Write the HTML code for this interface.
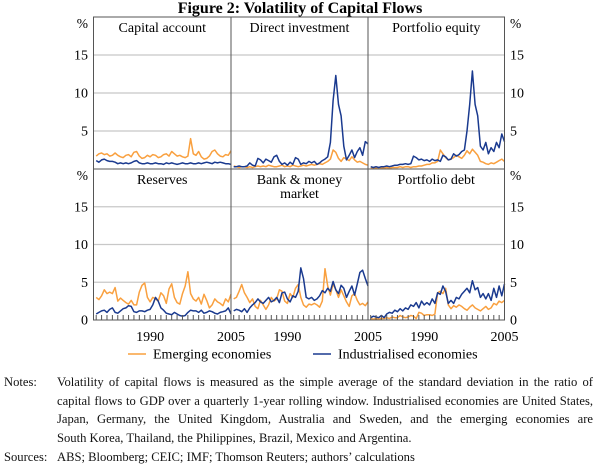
<!DOCTYPE html>
<html><head><meta charset="utf-8"><style>
body{margin:0;background:#fff;width:600px;height:465px;overflow:hidden;font-family:"Liberation Serif",serif;}
svg{position:absolute;left:0;top:0}
svg text{font-family:"Liberation Serif",serif;}
.notes{position:absolute;left:0;top:373px;width:600px;font-size:12.6px;line-height:18.5px;color:#111}
.row{display:flex}
.lab{width:57px;padding-left:4px;box-sizing:border-box;flex:none}
.txt{width:536px}
.j{text-align:justify;text-align-last:justify;white-space:nowrap}
</style></head><body>
<svg width="600" height="465" id="c"></svg>
<div class="notes">
<div class="row"><div class="lab">Notes:</div><div class="txt"><div class="j">Volatility of capital flows is measured as the simple average of the standard deviation in the ratio of</div><div class="j">capital flows to GDP over a quarterly 1-year rolling window. Industrialised economies are United States,</div><div class="j">Japan, Germany, the United Kingdom, Australia and Sweden, and the emerging economies are</div><div>South Korea, Thailand, the Philippines, Brazil, Mexico and Argentina.</div></div></div>
<div class="row" style="margin-top:1px"><div class="lab">Sources:</div><div class="txt">ABS; Bloomberg; CEIC; IMF; Thomson Reuters; authors’ calculations</div></div>
</div>
<script>
const panelTitles=[["Capital account"],["Direct investment"],["Portfolio equity"],["Reserves"],["Bank & money","market"],["Portfolio debt"]];
const yTicks=[5,10,15];
const yearLabels=[1990,2005];
const startYear=1980, stepYear=0.5;
const caEm=[1.7,2.0,2.1,1.9,2.0,1.7,1.8,2.1,1.8,1.6,1.5,1.8,1.9,1.6,2.2,2.3,1.7,1.4,1.5,1.8,1.6,1.9,1.8,1.5,1.6,1.9,2.0,1.7,2.3,2.0,1.7,1.8,1.6,1.5,1.7,4.0,2.0,1.8,2.3,1.6,1.3,1.4,1.7,2.3,2.5,2.0,1.7,1.6,1.9,1.8,2.4];
const caInd=[1.1,0.9,1.2,1.3,1.1,1.0,1.0,0.9,0.7,0.8,0.7,0.8,0.7,0.8,1.0,1.1,0.8,0.7,0.7,0.8,0.7,0.7,0.8,0.7,0.7,0.6,0.8,0.7,0.8,0.7,0.6,0.7,0.8,0.7,0.7,0.8,0.7,0.7,0.8,0.7,0.8,0.9,0.8,0.7,0.9,0.8,0.9,0.8,0.7,0.7,0.6];
const diEm=[0.4,0.3,0.2,0.3,0.3,0.2,0.3,0.2,0.3,0.4,0.3,0.4,0.3,0.5,0.4,0.3,0.3,0.4,0.5,0.3,0.4,0.3,0.5,0.4,0.3,0.4,0.5,0.4,0.5,0.6,0.5,0.6,0.7,0.6,0.8,1.0,1.3,2.5,2.2,1.4,1.0,1.5,1.3,1.1,1.6,1.2,0.9,1.0,0.8,0.6,0.5];
const diInd=[0.3,0.3,0.4,0.3,0.3,0.4,0.8,0.5,0.4,1.4,1.2,0.8,1.3,1.1,0.9,1.6,1.8,1.0,0.6,0.8,0.5,0.9,0.6,1.5,1.3,0.6,0.8,0.7,1.0,0.8,1.0,0.6,0.8,1.1,1.3,1.6,3.5,9.0,12.3,8.5,7.0,3.0,1.2,1.8,2.5,1.5,2.3,2.8,1.8,3.6,3.3];
const peEm=[0.1,0.1,0.1,0.2,0.1,0.1,0.2,0.1,0.2,0.2,0.2,0.3,0.2,0.3,0.3,0.2,0.3,0.3,0.4,0.4,0.5,0.6,0.6,0.8,0.8,1.0,2.5,2.0,1.5,1.2,1.3,1.5,1.8,1.6,1.4,1.8,2.4,2.0,2.6,2.2,1.8,1.0,0.9,0.7,0.6,0.8,0.7,0.9,1.1,1.3,1.0];
const peInd=[0.3,0.2,0.3,0.2,0.3,0.3,0.4,0.3,0.4,0.5,0.5,0.6,0.6,0.7,0.6,0.7,1.7,1.5,1.2,1.3,1.1,1.2,1.0,1.3,1.1,1.2,1.0,1.8,1.6,1.2,1.3,2.0,1.7,1.9,2.3,2.5,5.0,8.5,12.9,8.5,7.0,3.0,2.5,3.5,2.0,2.8,2.3,3.5,2.8,4.6,3.6];
const resEm=[3.0,2.7,3.2,4.0,3.5,3.7,3.5,4.3,2.5,2.9,2.6,2.3,2.1,2.6,2.0,2.0,3.7,4.6,4.9,3.0,2.4,3.0,2.8,2.5,3.6,3.2,2.2,4.1,4.8,3.0,2.3,2.1,3.5,4.5,6.4,3.5,2.8,2.5,3.0,2.1,3.4,2.6,1.6,2.0,2.8,2.4,2.2,1.9,2.8,2.4,3.4];
const resInd=[0.8,1.0,1.2,1.3,1.0,1.4,1.6,1.0,0.9,1.2,1.5,1.6,1.9,1.8,1.1,1.0,1.2,1.2,1.1,1.3,1.4,2.0,3.0,2.5,1.6,1.3,0.9,0.8,0.7,1.0,0.8,0.6,0.5,0.6,1.0,1.3,1.2,1.2,1.0,1.3,0.9,1.0,1.2,1.1,0.9,0.8,1.0,1.1,1.2,1.6,0.8];
const bankEm=[2.8,3.0,3.8,4.7,3.6,3.0,2.3,2.8,1.8,1.5,2.6,2.0,1.4,2.0,3.0,2.5,2.8,4.0,3.8,2.5,2.2,3.5,3.0,4.2,4.7,3.0,2.0,1.7,2.1,2.0,2.2,2.0,1.7,2.5,6.8,4.5,3.3,4.8,4.0,3.0,4.0,3.2,2.4,1.8,3.2,3.5,2.6,2.0,2.2,1.9,2.4];
const bankInd=[1.2,1.4,1.3,1.1,1.5,1.0,1.6,2.0,2.3,2.8,2.4,2.2,2.6,3.0,2.4,2.6,3.0,2.3,3.6,3.7,2.8,2.4,3.2,3.0,3.8,6.9,5.5,3.0,2.8,3.0,2.6,2.8,3.2,3.9,3.6,4.2,3.8,5.1,4.0,3.5,4.6,4.2,3.0,3.8,4.5,3.3,4.8,6.3,6.6,5.5,4.5];
const pdEm=[0.2,0.1,0.2,0.1,0.2,0.2,0.3,0.2,0.4,0.3,0.3,0.6,0.4,0.3,0.4,0.6,0.5,0.2,1.0,0.9,0.6,0.7,0.7,0.6,0.8,3.6,3.8,3.5,4.2,2.0,1.5,1.9,1.7,2.0,1.8,1.5,1.3,1.7,2.0,1.6,1.4,1.2,1.5,1.8,1.4,1.6,2.2,2.0,2.5,2.3,2.6];
const pdInd=[0.3,0.5,0.4,0.3,0.6,0.3,0.8,1.0,0.9,1.3,1.1,1.5,1.2,1.6,1.4,2.0,1.8,2.3,1.6,2.5,2.0,2.3,2.0,2.8,2.2,3.6,3.4,4.5,3.8,2.2,2.6,2.2,3.0,2.8,3.4,3.8,4.2,3.6,5.2,4.0,4.3,3.0,3.5,2.8,3.5,2.6,4.2,3.0,4.5,3.2,4.8];
const emSeries=[caEm,diEm,peEm,resEm,bankEm,pdEm];
const indSeries=[caInd,diInd,peInd,resInd,bankInd,pdInd];

const svg=document.getElementById('c');const NS='http://www.w3.org/2000/svg';
function mk(t,a,p){const e=document.createElementNS(NS,t);for(const k in a)e.setAttribute(k,a[k]);(p||svg).appendChild(e);return e;}
const colX=[93.5,231,368,504.5], rowY=[[17,169],[169,320]];
const X0=1979.5,X1=2005,YMAX=20;
function xs(c,yr){return colX[c]+(yr-X0)/(X1-X0)*(colX[c+1]-colX[c]);}
function ys(r,v){const [t,b]=rowY[r];return b-v/YMAX*(b-t);}
const EM='#f9a03f',IND='#1a3a8f';
let t=mk('text',{x:300,y:13,'text-anchor':'middle','font-size':'16','font-weight':'bold'});


t.textContent='Figure 2: Volatility of Capital Flows';
for(let r=0;r<2;r++){for(const v of yTicks){const g=mk('line',{x1:colX[0],x2:colX[3],y1:ys(r,v),y2:ys(r,v),stroke:'#c8c8c8','stroke-width':1.2});

}}
for(let i=0;i<6;i++){const c=i%3,r=Math.floor(i/3);
 [[emSeries[i],EM,'emerging-line'],[indSeries[i],IND,'industrialised-line']].forEach(([d,col,nm])=>{
  const pts=d.map((v,k)=>xs(c,startYear+k*stepYear).toFixed(1)+','+ys(r,v).toFixed(1)).join(' ');
  const p=mk('polyline',{points:pts,fill:'none',stroke:col,'stroke-width':1.5,'stroke-linejoin':'round'});
  
  
 });
 const tl=panelTitles[i];tl.forEach((s,j)=>{const tt=mk('text',{x:(colX[c]+colX[c+1])/2,y:(r?rowY[1][0]:rowY[0][0])+15+j*14,'text-anchor':'middle','font-size':'14'});
 
 
 tt.textContent=s;});
}
for(let c=0;c<3;c++){for(let yr=1980;yr<=2005;yr++){const k=mk('line',{x1:xs(c,yr),x2:xs(c,yr),y1:320,y2:315,stroke:'#555','stroke-width':1});

}
 for(const yl of yearLabels){let xx=xs(c,yl);const tt=mk('text',{x:xx,y:341,'text-anchor':'middle','font-size':'14'});
 
 
 tt.textContent=yl;}}
const fr=mk('rect',{x:colX[0],y:rowY[0][0],width:colX[3]-colX[0],height:320-rowY[0][0],fill:'none',stroke:'#555','stroke-width':1});


for(const xx of [colX[1],colX[2]]){const l=mk('line',{x1:xx,x2:xx,y1:rowY[0][0],y2:320,stroke:'#555','stroke-width':1});

}
const hl=mk('line',{x1:colX[0],x2:colX[3],y1:169,y2:169,stroke:'#555','stroke-width':1});


for(let r=0;r<2;r++){const labs=yTicks.slice();if(r===1)labs.unshift(0);
 for(const side of [0,1]){const xx=side?510:88,anc=side?'start':'end';
  for(const v of labs){const tt=mk('text',{x:xx,y:ys(r,v)+4.5,'text-anchor':anc,'font-size':'14'});
  
  
  tt.textContent=v;}
  const pc=mk('text',{x:xx,y:rowY[r][0]+11,'text-anchor':anc,'font-size':'13.5'});
  
  
  pc.textContent='%';}}
[[128,153,EM,'Emerging economies'],[313,338,IND,'Industrialised economies']].forEach(([lx,tx,col,s])=>{
 const l=mk('line',{x1:lx,x2:lx+18,y1:354,y2:354,stroke:col,'stroke-width':1.5});
 
 
 const tt=mk('text',{x:tx,y:358.5,'font-size':'14'});
 
 
 tt.textContent=s;});
</script>
</body></html>
